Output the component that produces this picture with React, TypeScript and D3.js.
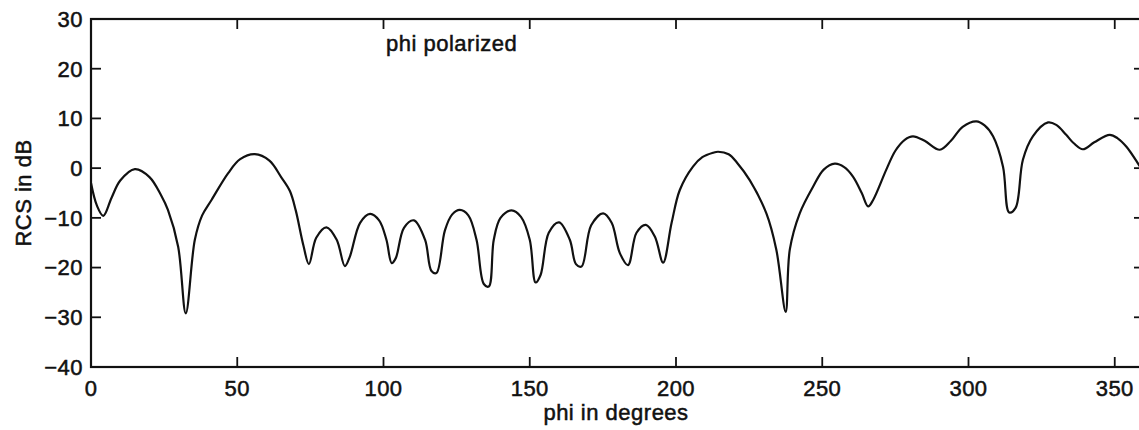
import { useEffect, useRef } from "react";
import * as d3 from "d3";

// phi (degrees) and RCS (dB)
const phiDeg = [
  0, 2, 4.2, 7, 10, 15, 20, 24, 26.3, 29.8, 32.4, 35.5, 38, 41.2, 46.9, 51, 56,
  61, 65, 68, 70, 72.6, 74.5, 77, 80.5, 84, 86.8, 88.5, 92, 95.4, 98.5, 101,
  102.8, 104.2, 107, 110.4, 114.2, 116.4, 118.1, 121, 123.5, 126.1, 129, 131.8,
  134.3, 136, 137.7, 140, 143.8, 147, 150, 152, 153.7, 156.5, 160, 163.7, 165.8,
  167.7, 171, 175.1, 178, 180.8, 183.6, 186.5, 189.7, 192.8, 195.6, 198.5,
  201.3, 205.8, 209, 212.7, 214.4, 218, 221, 225.2, 230.9, 234.3, 237.5, 238.9,
  242.3, 246.9, 250.5, 254.3, 257.5, 260.5, 263.5, 265.7, 267.4, 271.9, 275,
  278.2, 281, 285, 290.2, 294, 298, 302.7, 305.5, 308.4, 311.8, 313.9, 316.1,
  318.6, 322, 327.2, 330, 333.4, 336, 339.1, 343, 348.3, 351, 354, 358.2, 360,
];
const rcsDb = [
  -3, -7.5, -9.6, -6, -2.5, -0.2, -1.8, -5.5, -8.4, -15.8, -29.2, -14.4, -9.5,
  -6.4, -1.0, 1.8, 2.8, 1.5, -1.8, -4.6, -8.5, -15.5, -19.3, -14, -11.9, -14.4,
  -19.7, -17.8, -11, -9.2, -10.5, -14.4, -19.1, -18.1, -12, -10.5, -14.4, -20.7,
  -21.1, -12.5, -9.3, -8.4, -9.5, -14.4, -23.3, -23.8, -14.4, -10, -8.5, -9.8,
  -14.4, -23.0, -21.5, -13, -10.9, -14.4, -19.3, -19.8, -11.5, -9.1, -11, -17.1,
  -19.5, -13, -11.4, -13.8, -19.0, -11, -4.4, 0.3, 2.2, 3.1, 3.3, 2.8, 1, -2.4,
  -9.1, -16.4, -28.9, -16.4, -9.1, -3.7, -0.3, 0.9, 0.2, -1.7, -5, -7.7, -6.4,
  -0.3, 3.5, 5.7, 6.4, 5.5, 3.7, 5.5, 8.3, 9.4, 8.6, 6.4, 0.3, -8.9, -8.0, 1.7,
  6.4, 9.2, 8.7, 6.7, 5, 3.8, 5.2, 6.7, 6, 4.3, 0.7, -1,
];
const xTicks = [0, 50, 100, 150, 200, 250, 300, 350];
const yTicks = [-40, -30, -20, -10, 0, 10, 20, 30];

const W = 1139;
const H = 430;
const FONT = "'Liberation Sans', Arial, Helvetica, sans-serif";

const App = () => {
  const svgRef = useRef<SVGSVGElement>(null);

  useEffect(() => {
    if (!svgRef.current) return;
    const svg = d3.select(svgRef.current);
    svg.selectAll("*").remove();

    const x = d3.scaleLinear().domain([0, 360]).range([91, 1144]);
    const y = d3.scaleLinear().domain([-40, 30]).range([367, 19]);
    const [x0, x1] = x.range();
    const [yb, yt] = y.range();
    const tickLen = 10;

    const g = svg.append("g");

    // curve
    const pts = phiDeg.map((p, i) => [p, rcsDb[i]] as [number, number]);
    const line = d3
      .line<[number, number]>()
      .x((d) => x(d[0]))
      .y((d) => y(d[1]))
      .curve(d3.curveCatmullRom.alpha(0.5));
    g.append("path")
      .datum(pts)
      .attr("d", line)
      .attr("fill", "none")
      .attr("stroke", "#111")
      .attr("stroke-width", 2.2)
      .attr("stroke-linejoin", "round");

    // frame
    g.append("rect")
      .attr("x", x0)
      .attr("y", yt)
      .attr("width", x1 - x0)
      .attr("height", yb - yt)
      .attr("fill", "none")
      .attr("stroke", "#111")
      .attr("stroke-width", 2.2);

    // inward ticks
    const ticks = g.append("g").attr("stroke", "#111").attr("stroke-width", 1.8);
    xTicks.forEach((t) => {
      ticks.append("line").attr("x1", x(t)).attr("x2", x(t)).attr("y1", yb).attr("y2", yb - tickLen);
      ticks.append("line").attr("x1", x(t)).attr("x2", x(t)).attr("y1", yt).attr("y2", yt + tickLen);
    });
    yTicks.forEach((t) => {
      ticks.append("line").attr("x1", x0).attr("x2", x0 + tickLen).attr("y1", y(t)).attr("y2", y(t));
      ticks.append("line").attr("x1", x1).attr("x2", x1 - tickLen).attr("y1", y(t)).attr("y2", y(t));
    });

    const fmt = d3.format("d");
    const labels = g
      .append("g")
      .attr("font-family", FONT)
      .attr("font-size", 22)
      .attr("fill", "#111")
      .attr("stroke", "#111")
      .attr("stroke-width", 0.5)
      .attr("letter-spacing", 0.5);

    xTicks.forEach((t) => {
      labels
        .append("text")
        .attr("x", x(t))
        .attr("y", 396)
        .attr("text-anchor", "middle")
        .text(fmt(t));
    });
    yTicks.forEach((t) => {
      labels
        .append("text")
        .attr("x", 83)
        .attr("y", y(t))
        .attr("dy", "0.36em")
        .attr("text-anchor", "end")
        .text(fmt(t));
    });

    labels
      .append("text")
      .attr("x", 616)
      .attr("y", 420)
      .attr("text-anchor", "middle")
      .text("phi in degrees");

    labels
      .append("text")
      .attr("transform", "translate(31,193) rotate(-90)")
      .attr("text-anchor", "middle")
      .text("RCS in dB");

    labels
      .append("text")
      .attr("x", 386)
      .attr("y", 51)
      .text("phi polarized");
  }, []);

  return (
    <div style={{ position: "absolute", left: 0, top: 0, width: W, height: H, overflow: "hidden" }}>
      <svg ref={svgRef} width={W} height={H} style={{ display: "block", background: "#fff" }} />
    </div>
  );
};

export default App;
